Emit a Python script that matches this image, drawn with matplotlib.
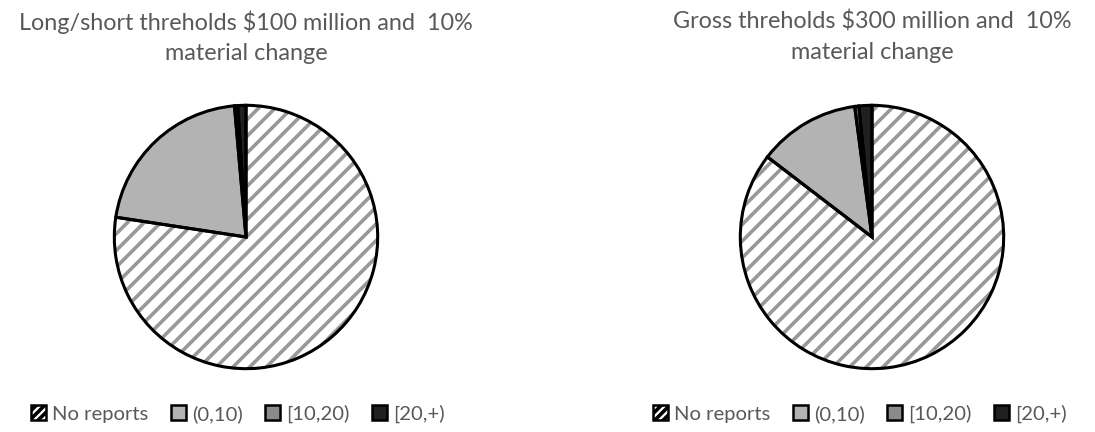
import matplotlib.pyplot as plt
from matplotlib.patches import Patch

plt.rcParams['font.family'] = ['Lato', 'DejaVu Sans']
plt.rcParams['hatch.linewidth'] = 2.6

# share of funds per number of reports (percent)
categories = ['No reports', '(0,10)', '[10,20)', '[20,+)']
long_short = [77.4, 21.2, 0.4, 1.0]
gross = [85.4, 12.5, 0.5, 1.6]
titles = ['Long/short threholds $100 million and  10%\nmaterial change',
          'Gross threholds $300 million and  10%\nmaterial change']

colors = ['white', '#b3b3b3', '#8a8a8a', '#202020']
hatch_color = '#999999'
text_color = '#595959'

W, H = 1095, 432
fig = plt.figure(figsize=(W / 100, H / 100), dpi=100)

centers = [(246, 237), (872, 237)]
legend_x = [238, 860]
R = 133

for data, title, (cx, cy), lx in zip([long_short, gross], titles, centers, legend_x):
    ax = fig.add_axes([(cx - R) / W, (H - cy - R) / H, 2 * R / W, 2 * R / H])

    # fill pass: hatch drawn in gray
    wedges, _ = ax.pie(data, colors=colors, startangle=90, counterclock=False,
                       wedgeprops=dict(linewidth=0))
    wedges[0].set_edgecolor(hatch_color)
    wedges[0].set_hatch('//')
    wedges[0].set_linewidth(0)

    # outline pass
    outline, _ = ax.pie(data, startangle=90, counterclock=False,
                        wedgeprops=dict(fill=False, edgecolor='black', linewidth=2.2))
    ax.set_xlim(-1.01, 1.01)
    ax.set_ylim(-1.01, 1.01)
    ax.set_aspect('equal')
    ax.axis('off')

    fig.text(cx / W, 1 - 37 / H, title, ha='center', va='center', fontsize=16.8,
             color=text_color, linespacing=1.55)

    handles = []
    for i, c in enumerate(colors):
        h = Patch(facecolor=c, edgecolor='black', linewidth=1.8,
                  hatch='////' if i == 0 else None)
        handles.append(h)
    fig.legend(handles, categories, loc='center', bbox_to_anchor=(lx / W, 1 - 414 / H),
               ncol=4, frameon=False, fontsize=14.6, labelcolor=text_color,
               handlelength=0.75, handleheight=0.75, handletextpad=0.3,
               columnspacing=1.1, borderaxespad=0)

fig.savefig('out.png', dpi=100)
